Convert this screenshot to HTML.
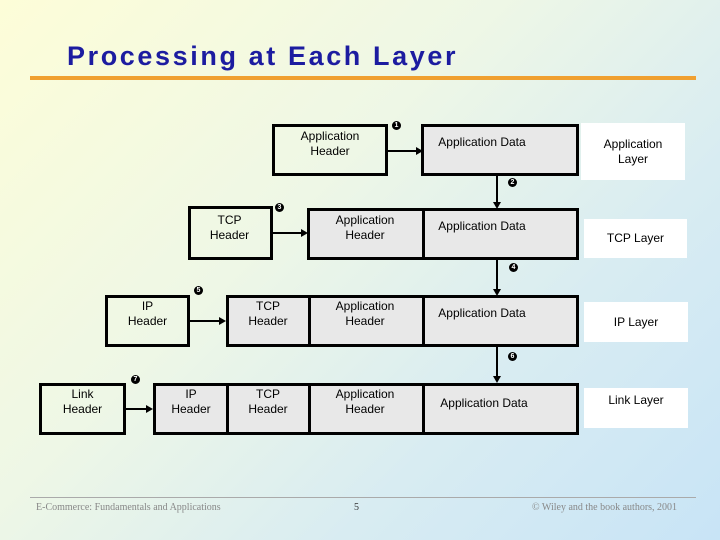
<!DOCTYPE html>
<html><head><style>
body{margin:0;width:720px;height:540px;overflow:hidden;background:linear-gradient(135deg,#fdfdd8 0%,#eef7e6 40%,#d8ecf2 70%,#c8e4f6 100%);font-family:"Liberation Sans",Arial,sans-serif;position:relative}
.a{position:absolute}
.b{position:absolute;border:3px solid #000;box-sizing:border-box}
.g{background:#e8e8e8}
.t{position:absolute;font-size:12px;text-align:center;line-height:15px;color:#000}
.w{position:absolute;background:#fff;font-size:12px;text-align:center;display:flex;align-items:center;justify-content:center;line-height:15px}
.d{position:absolute;top:0;bottom:0;border-left:3px solid #000}
.h{position:absolute;height:2px;background:#000}
.v{position:absolute;width:2px;background:#000}
.ar{position:absolute;width:0;height:0;border-top:4px solid transparent;border-bottom:4px solid transparent;border-left:7px solid #000}
.ad{position:absolute;width:0;height:0;border-left:4px solid transparent;border-right:4px solid transparent;border-top:7px solid #000}
.c{position:absolute;width:9px;height:9px;border-radius:50%;background:#000;color:#fff;font-size:7px;line-height:9px;text-align:center;font-weight:bold}
.f{position:absolute;font-family:"Liberation Serif",serif;font-size:10px;color:#888;top:502px}
</style></head><body>
<div class="a" style="left:67px;top:41px;font-size:27px;font-weight:bold;color:#1c1ca0;letter-spacing:2.6px">Processing at Each Layer</div>
<div class="a" style="left:30px;top:76px;width:666px;height:4px;background:#f0a030"></div>

<div class="b" style="left:272px;top:124px;width:116px;height:52px"></div>
<div class="t" style="left:272px;top:129px;width:116px">Application<br>Header</div>
<div class="b g" style="left:421px;top:124px;width:158px;height:52px"></div>
<div class="t" style="left:422px;top:135px;width:120px">Application Data</div>
<div class="w" style="left:581px;top:123px;width:104px;height:57px">Application<br>Layer</div>
<div class="h" style="left:387px;top:150px;width:30px"></div><div class="ar" style="left:416px;top:147px"></div>
<div class="c" style="left:392px;top:121px">1</div>

<div class="v" style="left:496px;top:175px;height:28px"></div><div class="ad" style="left:493px;top:202px"></div>
<div class="c" style="left:508px;top:178px">2</div>

<div class="b" style="left:188px;top:206px;width:85px;height:54px"></div>
<div class="t" style="left:188px;top:213px;width:83px">TCP<br>Header</div>
<div class="b g" style="left:307px;top:208px;width:272px;height:52px"><div class="d" style="left:112px"></div></div>
<div class="t" style="left:308px;top:213px;width:114px">Application<br>Header</div>
<div class="t" style="left:422px;top:219px;width:120px">Application Data</div>
<div class="w" style="left:584px;top:219px;width:103px;height:39px">TCP Layer</div>
<div class="h" style="left:272px;top:232px;width:30px"></div><div class="ar" style="left:301px;top:229px"></div>
<div class="c" style="left:275px;top:203px">3</div>

<div class="v" style="left:496px;top:259px;height:31px"></div><div class="ad" style="left:493px;top:289px"></div>
<div class="c" style="left:509px;top:263px">4</div>

<div class="b" style="left:105px;top:295px;width:85px;height:52px"></div>
<div class="t" style="left:105px;top:299px;width:85px">IP<br>Header</div>
<div class="b g" style="left:226px;top:295px;width:353px;height:52px"><div class="d" style="left:79px"></div><div class="d" style="left:193px"></div></div>
<div class="t" style="left:226px;top:299px;width:84px">TCP<br>Header</div>
<div class="t" style="left:308px;top:299px;width:114px">Application<br>Header</div>
<div class="t" style="left:422px;top:306px;width:120px">Application Data</div>
<div class="w" style="left:584px;top:302px;width:104px;height:40px">IP Layer</div>
<div class="h" style="left:189px;top:320px;width:31px"></div><div class="ar" style="left:219px;top:317px"></div>
<div class="c" style="left:194px;top:286px">5</div>

<div class="v" style="left:496px;top:346px;height:31px"></div><div class="ad" style="left:493px;top:376px"></div>
<div class="c" style="left:508px;top:352px">6</div>

<div class="b" style="left:39px;top:383px;width:87px;height:52px"></div>
<div class="t" style="left:39px;top:387px;width:87px">Link<br>Header</div>
<div class="b g" style="left:153px;top:383px;width:426px;height:52px"><div class="d" style="left:70px"></div><div class="d" style="left:152px"></div><div class="d" style="left:266px"></div></div>
<div class="t" style="left:154px;top:387px;width:74px">IP<br>Header</div>
<div class="t" style="left:226px;top:387px;width:84px">TCP<br>Header</div>
<div class="t" style="left:308px;top:387px;width:114px">Application<br>Header</div>
<div class="t" style="left:424px;top:396px;width:120px">Application Data</div>
<div class="w" style="left:584px;top:388px;width:104px;height:40px;align-items:flex-start;padding-top:5px;box-sizing:border-box">Link Layer</div>
<div class="h" style="left:125px;top:408px;width:22px"></div><div class="ar" style="left:146px;top:405px"></div>
<div class="c" style="left:131px;top:375px">7</div>

<div class="a" style="left:30px;top:497px;width:666px;height:1px;background:#aaa"></div>
<div class="f" style="left:36px">E-Commerce: Fundamentals and Applications</div>
<div class="f" style="left:354px;color:#333">5</div>
<div class="f" style="left:532px">© Wiley and the book authors, 2001</div>
</body></html>
